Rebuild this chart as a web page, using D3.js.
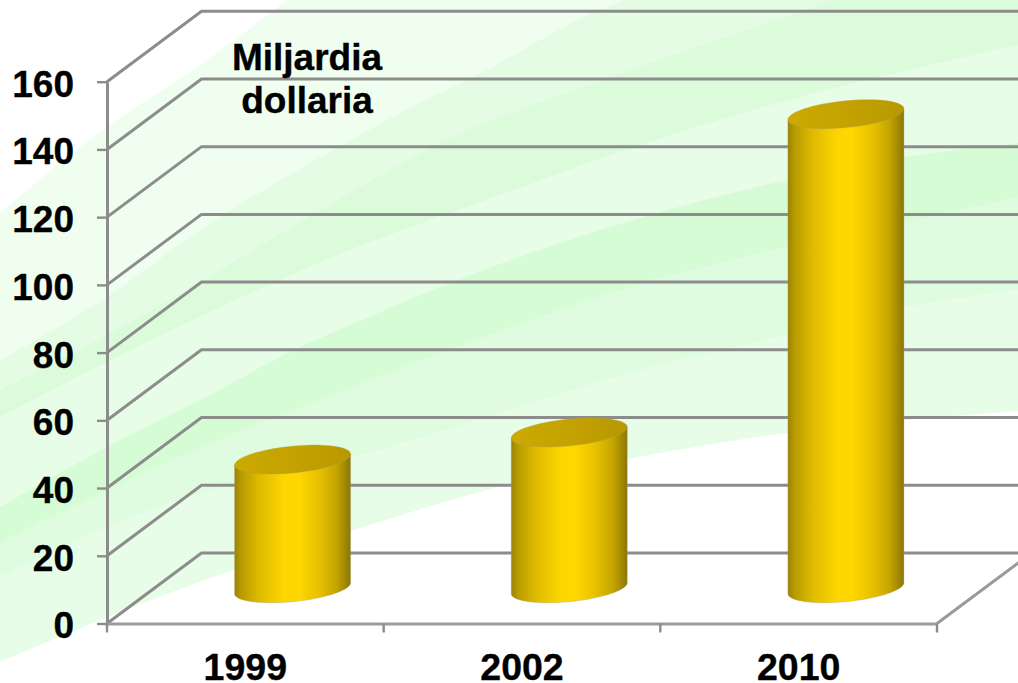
<!DOCTYPE html>
<html>
<head>
<meta charset="utf-8">
<script src="https://cdn.jsdelivr.net/npm/d3@7/dist/d3.min.js"></script>
<style>
html,body{margin:0;padding:0;background:#fff;overflow:hidden}
svg{display:block}
text{font-family:"Liberation Sans",Arial,sans-serif;font-weight:bold;fill:#000;stroke:#000;stroke-width:0.35px}
</style>
</head>
<body>
<svg id="chart" width="1018" height="683"></svg>
<script>
const categories = ["1999", "2002", "2010"];
const values = [38, 46, 140];
const yTicks = [0, 20, 40, 60, 80, 100, 120, 140, 160];
const unitLines = ["Miljardia", "dollaria"];

const W = 1018, H = 683;
const svg = d3.select("#chart");

// Scales and the oblique depth of the 3D box
const y = d3.scaleLinear().domain([0, 160]).range([623.5, 81.7]);
const x = d3.scaleBand().domain(categories).range([107, 937]);
const depthX = 94.5, depthY = 70.5;

// Decorative background swooshes (painted top-left to bottom-right)
const swooshes = [
  {c:"#effeef", p:[[0,213],[107,127],[200,65],[287,0]]},
  {c:"#e4fce4", p:[[0,360],[107,297],[200,230],[333,150],[400,113],[477,75],[593,13],[625,0]]},
  {c:"#dbfbdb", p:[[0,390],[107,335],[350,193],[433,147],[617,75],[797,13],[835,0]]},
  {c:"#e7fde7", p:[[0,417],[107,362],[350,250],[500,195],[640,145],[800,97],[900,72],[1018,45]]},
  {c:"#d6fcd6", p:[[0,507],[107,447],[200,400],[300,347],[350,325],[457,280],[657,213],[787,180],[905,157],[1018,143]]},
  {c:"#e0fce0", p:[[0,543],[107,490],[200,448],[350,388],[457,347],[660,278],[787,247],[950,212],[1018,197]]},
  {c:"#e8fde8", p:[[0,577],[107,527],[200,493],[350,458],[500,413],[633,372],[787,335],[900,308],[1018,290]]},
  {c:"#ffffff", p:[[0,662],[93,623],[233,570],[354,530],[510,484],[633,458],[786,433],[1018,411]]}
];
const curve = d3.line().curve(d3.curveMonotoneX);
svg.selectAll("path.swoosh").data(swooshes).join("path")
  .attr("class", "swoosh")
  .attr("fill", d => d.c)
  .attr("d", d => {
    const last = d.p[d.p.length - 1];
    const tail = last[1] === 0 ? `L${W},0L${W},${H}L0,${H}Z` : `L${W},${H}L0,${H}Z`;
    return curve(d.p) + tail;
  });

// Grid: side wall + back wall at every tick
const gridColor = "#8c8c8c";
const grid = svg.append("g").attr("fill", "none").attr("stroke", gridColor).attr("stroke-width", 3);
grid.selectAll("path").data(yTicks).join("path")
  .attr("d", v => {
    const x0 = x.range()[0], py = y(v);
    return `M${x0},${py}L${x0 + depthX},${py - depthY}L${W + 2},${py - depthY}`;
  });

// Floor's right edge
const xEnd = x.range()[1];
grid.append("path")
  .attr("stroke", "#9a9a9a")
  .attr("d", `M${xEnd},${y(0)}L${xEnd + depthX},${y(0) - depthY}`);

// Y axis
const yAxis = d3.axisLeft(y).tickValues(yTicks).tickSize(10).tickPadding(23).tickSizeOuter(0);
const gy = svg.append("g").attr("transform", `translate(${x.range()[0]},0)`).call(yAxis);
gy.select(".domain").attr("stroke", gridColor).attr("stroke-width", 3);
gy.selectAll(".tick line").attr("stroke", gridColor).attr("stroke-width", 2.4);
gy.selectAll("text").attr("font-size", 37).attr("dy", "0.39em");

// X axis
const xAxis = d3.axisBottom(x).tickSize(0).tickPadding(30).tickSizeOuter(0);
const gx = svg.append("g").attr("transform", `translate(0,${y(0)})`).call(xAxis);
gx.select(".domain").attr("stroke", "#9c9c9c").attr("stroke-width", 3);
gx.selectAll("text").attr("font-size", 37.5);
const bounds = categories.map(c => x(c)).concat([xEnd]);
gx.selectAll("line.bound").data(bounds).join("line")
  .attr("class", "bound")
  .attr("x1", d => d).attr("x2", d => d)
  .attr("y1", 0).attr("y2", 9)
  .attr("stroke", gridColor).attr("stroke-width", 2.4);

// Cylinder gradients
const defs = svg.append("defs");
const body = defs.append("linearGradient").attr("id", "cylBody");
[[0, "#9a8404"], [0.06, "#b89c00"], [0.2, "#dcb800"], [0.42, "#fdd500"], [0.55, "#ffd700"], [0.72, "#e8c200"], [0.88, "#c4a400"], [1, "#8a7606"]]
  .forEach(s => body.append("stop").attr("offset", s[0]).attr("stop-color", s[1]));
const cap = defs.append("linearGradient").attr("id", "cylCap");
[[0, "#ccaa00"], [0.6, "#c2a000"], [1, "#b89800"]]
  .forEach(s => cap.append("stop").attr("offset", s[0]).attr("stop-color", s[1]));

// Cylinders
const halfW = 58, halfH = 14.5, slant = 5.5;
const rise = Math.sqrt(halfH * halfH - slant * slant);
const ringPoint = (cx, cy, t) => [cx + halfW * Math.cos(t), cy - slant * Math.cos(t) + rise * Math.sin(t)];
const ts = d3.range(0, 73).map(i => i / 72);
const line = d3.line();
const bars = categories.map((c, i) => ({
  cx: x(c) + x.bandwidth() / 2 + depthX / 2,
  base: y(0) - depthY / 2,
  top: y(values[i]) - depthY / 2
}));
const g = svg.append("g").selectAll("g").data(bars).join("g");
g.append("path")
  .attr("fill", "url(#cylBody)")
  .attr("stroke", "#a8a070").attr("stroke-width", 0.6).attr("stroke-opacity", 0.6)
  .attr("d", d => {
    const lower = ts.map(u => ringPoint(d.cx, d.base, u * Math.PI));
    return line(lower.concat([ringPoint(d.cx, d.top, Math.PI), ringPoint(d.cx, d.top, 0)])) + "Z";
  });
g.append("path")
  .attr("fill", "url(#cylCap)")
  .attr("stroke", "#b0a050").attr("stroke-width", 0.6).attr("stroke-opacity", 0.6)
  .attr("d", d => line(ts.map(u => ringPoint(d.cx, d.top, u * 2 * Math.PI))) + "Z");

// Unit caption
svg.append("g").selectAll("text").data(unitLines).join("text")
  .attr("x", 307).attr("y", (d, i) => 70 + i * 43)
  .attr("text-anchor", "middle").attr("font-size", 37)
  .text(d => d);
</script>
</body>
</html>
